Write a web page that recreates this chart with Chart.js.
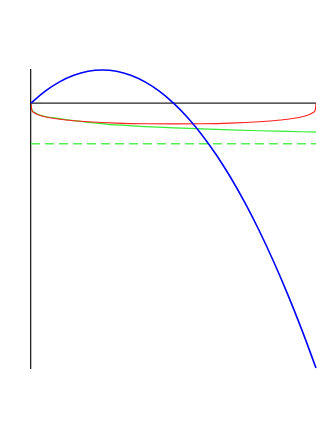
<!DOCTYPE html>
<html lang="en">
  <head>
    <meta charset="UTF-8" />
    <title>Curves</title>
    <style>
      body { margin: 0; background: #fff; }
    </style>
  </head>
  <body>
    <canvas id="myChart" width="331" height="440"></canvas>
    <script src="https://cdn.jsdelivr.net/npm/chart.js"></script>
    <script>
      // values
      const blueX = [0, 0.05, 0.1, 0.15, 0.2, 0.25, 0.3, 0.35, 0.4, 0.45, 0.5,
        0.55, 0.6, 0.65, 0.7, 0.75, 0.8, 0.85, 0.9, 0.95, 1];
      const blueY = [0, 0.36, 0.64, 0.84, 0.96, 1, 0.96, 0.84, 0.64, 0.36, 0,
        -0.44, -0.96, -1.56, -2.24, -3, -3.84, -4.76, -5.76, -6.84, -8];

      const redX = [0, 0.002, 0.01, 0.03, 0.06, 0.1, 0.15, 0.2, 0.3, 0.4, 0.5,
        0.6, 0.7, 0.8, 0.85, 0.9, 0.94, 0.97, 0.99, 0.998, 1];
      const redY = [0, -0.188, -0.281, -0.368, -0.434, -0.488, -0.532, -0.563, -0.603, -0.624, -0.63,
        -0.624, -0.603, -0.563, -0.532, -0.488, -0.434, -0.368, -0.281, -0.188, 0];

      const greenX = [0, 0.002, 0.01, 0.03, 0.06, 0.1, 0.15, 0.2, 0.3, 0.4, 0.5,
        0.6, 0.7, 0.8, 0.9, 1];
      const greenY = [0, -0.17, -0.27, -0.36, -0.42, -0.47, -0.53, -0.58, -0.66, -0.71, -0.745,
        -0.78, -0.81, -0.835, -0.855, -0.875];

      const levelX = [0, 1];
      const dashedY = [-1.23, -1.23];
      const zeroY = [0, 0];

      const pts = (xs, ys) => xs.map((x, i) => ({ x: x, y: ys[i] }));

      const config = {
        type: "line",
        data: {
          datasets: [
            {
              data: pts(blueX, blueY),
              borderColor: "#0000ff",
              borderWidth: 1.6,
              tension: 0.4,
              clip: 5,
            },
            {
              data: pts(redX, redY),
              borderColor: "#ff2020",
              borderWidth: 1.2,
              cubicInterpolationMode: "monotone",
            },
            {
              data: pts(greenX, greenY),
              borderColor: "#33ee33",
              borderWidth: 1.2,
              cubicInterpolationMode: "monotone",
            },
            {
              data: pts(levelX, dashedY),
              borderColor: "#55ee55",
              borderWidth: 1.5,
              borderDash: [9, 5],
            },
            {
              data: pts(levelX, zeroY),
              borderColor: "#222222",
              borderWidth: 1.3,
            },
          ],
        },
        options: {
          responsive: false,
          animation: false,
          elements: { point: { radius: 0 } },
          layout: { padding: { left: 31, right: 15, top: 70, bottom: 72 } },
          plugins: {
            legend: { display: false },
            tooltip: { enabled: false },
          },
          scales: {
            x: { type: "linear", min: 0, max: 1, display: false },
            y: {
              min: -8,
              max: 1,
              ticks: { display: false },
              grid: { display: false },
              border: { display: true, color: "#222222", width: 1.3 },
              afterFit: (s) => { s.width = 0; },
            },
          },
        },
      };
      new Chart(document.getElementById("myChart"), config);
    </script>
  </body>
</html>
